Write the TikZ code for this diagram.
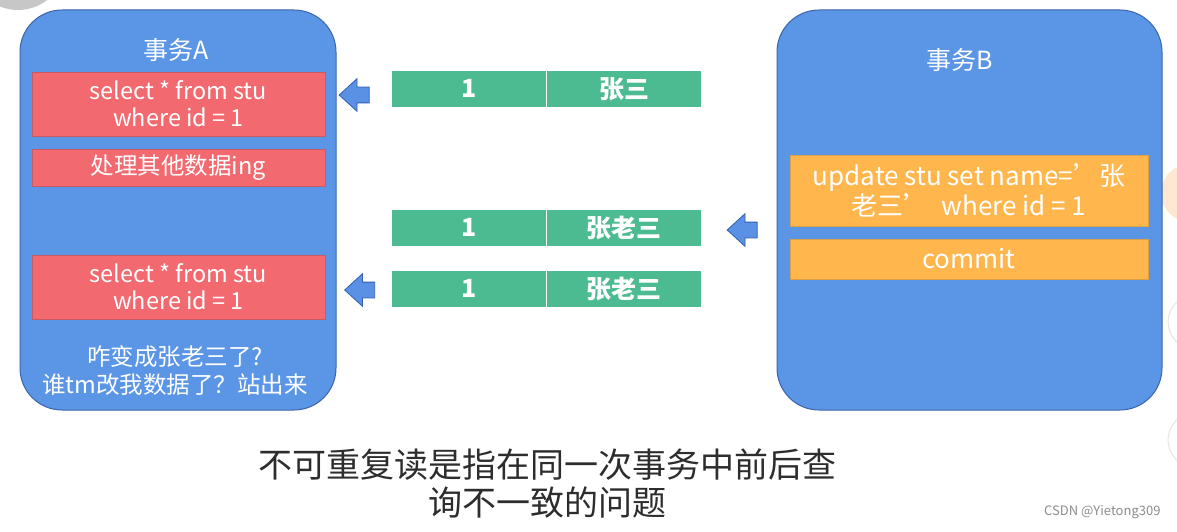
\documentclass[tikz,border=0pt]{standalone}
\usepackage{fontspec}
\setmainfont{Noto Sans CJK SC}
\usetikzlibrary{shapes.arrows}
\definecolor{panelblue}{RGB}{91,149,230}
\definecolor{paneledge}{RGB}{60,100,170}
\definecolor{redbox}{RGB}{242,106,112}
\definecolor{rededge}{RGB}{200,90,100}
\definecolor{greenbar}{RGB}{77,187,145}
\definecolor{orangebox}{RGB}{255,183,77}
\definecolor{orangeedge}{RGB}{220,160,70}
\definecolor{arrowblue}{RGB}{90,145,228}
\definecolor{arrowedge}{RGB}{50,95,175}
\definecolor{captext}{RGB}{45,45,45}
\tikzset{
  panel/.style={draw=paneledge, line width=1pt, fill=panelblue, rounded corners=42pt},
  redstep/.style={draw=rededge, line width=0.6pt, fill=redbox},
  orangestep/.style={draw=orangeedge, line width=0.6pt, fill=orangebox},
  greencell/.style={fill=greenbar, draw=white, line width=0.8pt},
  boxtext/.style={text=white, font=\fontsize{23.5}{27}\selectfont, align=center},
  celltext/.style={text=white, font=\fontsize{25}{28}\selectfont\bfseries},
  blockarrow/.style={single arrow, shape border rotate=180, draw=arrowedge, line width=0.8pt,
    fill=arrowblue, minimum height=30pt, minimum width=32pt, inner sep=7.5pt,
    single arrow head extend=8.5pt, single arrow tip angle=85},
}
\begin{document}
\begin{tikzpicture}[x=1pt, y=-1pt]
\useasboundingbox[fill=white] (0,0) rectangle (1177,532);
% screenshot overlays at the edges
\fill[black!22] (18,-38) circle (48);
\fill[orange!18!white] (1190,193) circle (29);
\draw[black!10, line width=1pt, fill=white] (1195,322) circle (27);
\draw[black!10, line width=1pt, fill=white] (1195,440) circle (27);
% panels
\draw[panel] (20,10) rectangle (336,410);
\draw[panel] (777,10) rectangle (1162,410);
\node[text=white, font=\fontsize{25}{28}\selectfont] (ta) at (176,50) {事务A};
\node[text=white, font=\fontsize{25}{28}\selectfont] (tb) at (960,60) {事务B};
% transaction A steps
\draw[redstep] (32,72) rectangle (325,136);
\node[boxtext] (a1) at (178.5,104) {select * from stu\\where id = 1};
\draw[redstep] (32,149) rectangle (325,186);
\node[boxtext] (a2) at (178.5,167.5) {处理其他数据ing};
\draw[redstep] (32,255) rectangle (325,319);
\node[boxtext] (a3) at (178.5,287) {select * from stu\\where id = 1};
\node[text=white, font=\fontsize{23.5}{28}\selectfont, align=center] (aq) at (175,371)
  {咋变成张老三了?\\谁tm改我数据了？站出来};
% transaction B steps
\draw[orangestep] (790,155) rectangle (1148,226);
\node[boxtext, font=\fontsize{26}{30}\selectfont] (b1) at (969,190.5) {update stu set name=’张\\老三’\ \ where id = 1};
\draw[orangestep] (790,239) rectangle (1148,279);
\node[boxtext, font=\fontsize{26}{28}\selectfont] (b2) at (969,259) {commit};
% data rows
\foreach \y/\nm/\lab in {70/r1/张三, 209/r2/张老三, 270/r3/张老三}{
  \draw[greencell] (391,\y) rectangle (546.5,\y+37.5);
  \draw[greencell] (546.5,\y) rectangle (701,\y+37.5);
  \node[celltext] (\nm id) at (468.75,\y+18.75) {1};
  \node[celltext] (\nm nm) at (624,\y+18.75) {\lab};
}
% block arrows
\node[blockarrow] (ar1) at (358.5,95) {};
\node[blockarrow] (ar2) at (746.5,230) {};
\node[blockarrow] (ar3) at (364,290) {};
% caption
\node[text=captext, font=\fontsize{34}{38}\selectfont, align=center] (cap) at (547,484)
  {不可重复读是指在同一次事务中前后查\\询不一致的问题};
\node[text=black!45, font=\fontsize{13}{14}\selectfont, anchor=east] (wm) at (1164,512) {CSDN @Yietong309};
\end{tikzpicture}
\end{document}
